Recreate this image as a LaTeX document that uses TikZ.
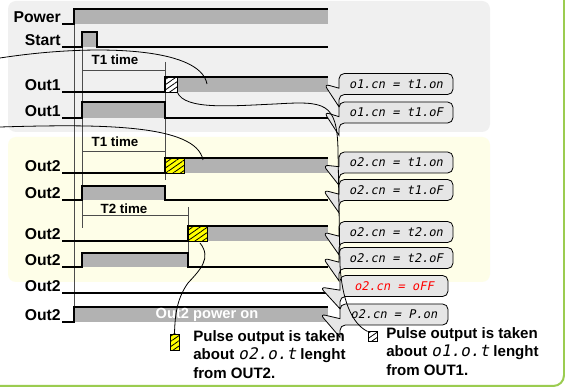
\documentclass[tikz,border=0pt]{standalone}
\usepackage{fontspec}
\setmainfont{Liberation Sans}
\newfontfamily\segfont[FakeSlant=0.2]{DejaVu Sans Mono}
\usetikzlibrary{shapes.callouts,patterns.meta}
\definecolor{panelgrey}{RGB}{240,240,240}
\definecolor{panelyellow}{RGB}{254,254,232}
\definecolor{bargrey}{RGB}{178,178,178}
\definecolor{bubblegrey}{RGB}{230,230,230}
\definecolor{hatchyellow}{RGB}{255,255,0}
\definecolor{framegreen}{RGB}{155,204,80}

\begin{document}
\begin{tikzpicture}[x=0.75pt,y=-0.75pt,
  sig/.style={line width=0.9pt},
  thin/.style={line width=0.6pt},
  tline/.style={line width=0.7pt,black!70},
  bar/.style={fill=bargrey},
  lbl/.style={font=\fontsize{11.8}{13}\selectfont\bfseries,anchor=base east,inner sep=0pt},
  tlbl/.style={font=\fontsize{10}{12}\selectfont\bfseries,inner sep=0pt},
  note/.style={font=\fontsize{11.3}{13.9}\selectfont\bfseries,align=left,anchor=north west,inner sep=0pt},
  bubble/.style={rectangle callout,draw,fill=bubblegrey,rounded corners=4pt,line width=0.6pt,
    minimum width=85.5pt,minimum height=15.75pt,inner sep=1pt,callout pointer width=14pt,
    font=\segfont\fontsize{9}{10}\selectfont},
  hatchw/.style={draw,line width=0.6pt,inner sep=0pt,preaction={fill=white},
    pattern={Lines[angle=35,distance=3.2pt,line width=0.6pt]}},
  hatchy/.style={draw,line width=0.6pt,inner sep=0pt,preaction={fill=hatchyellow},
    pattern={Lines[angle=35,distance=3.2pt,line width=0.6pt]}}]

\useasboundingbox (0,0) rectangle (565,388);
\fill[white] (0,0) rectangle (565,388);
\fill[panelgrey,rounded corners=6pt] (8,1) rectangle (490,132);
\fill[panelyellow,rounded corners=6pt] (8,137) rectangle (490,282);
\draw[framegreen,line width=1.5pt,rounded corners=8pt] (564,0) -- (564,386) -- (0,386);

% labels
\node[lbl] (power) at (61,22.5) {Power};
\node[lbl] (start) at (61,45.5) {Start};
\node[lbl] (o1a) at (61,90.5) {Out1};
\node[lbl] (o1b) at (61,116.5) {Out1};
\node[lbl] (o2a) at (61,171.5) {Out2};
\node[lbl] (o2b) at (61,198.5) {Out2};
\node[lbl] (o2c) at (61,239.5) {Out2};
\node[lbl] (o2d) at (61,265.5) {Out2};
\node[lbl] (o2e) at (61,291.5) {Out2};
\node[lbl] (o2f) at (61,320.5) {Out2};

% time marks
\draw[tline] (74,9) -- (74,322);
\draw[tline] (82,32) -- (82,228);
\draw[tline] (165,62) -- (165,180);
\draw[tline] (188,207) -- (188,267);
\draw[tline] (82,70) -- (165,70);
\draw[tline] (82,151) -- (165,151);
\draw[tline] (82,215) -- (188,215);
\node[tlbl] (t1a) at (115,60) {T1 time};
\node[tlbl] (t1b) at (115,142) {T1 time};
\node[tlbl] (t2) at (124,209) {T2 time};

% signals
\fill[bar] (74,9) rectangle (328,24);
\draw[sig] (62,24) -- (74,24) -- (74,9) -- (328,9);
\fill[bar] (82,32) rectangle (97,47);
\draw[sig] (62,47) -- (82,47) -- (82,32) -- (97,32) -- (97,47) -- (328,47);
\fill[bar] (177,77) rectangle (328,92);
\draw[sig] (62,92) -- (165,92) -- (165,77) -- (328,77);
\node[hatchw,minimum width=9pt,minimum height=11.25pt] (hw) at (171,84.5) {};
\fill[bar] (82,102) rectangle (165,118);
\draw[sig] (62,118) -- (82,118) -- (82,102) -- (165,102) -- (165,118) -- (328,118);
\fill[bar] (184,158) rectangle (328,173);
\draw[sig] (62,173) -- (165,173) -- (165,158) -- (328,158);
\node[hatchy,minimum width=14.25pt,minimum height=11.25pt] (hy1) at (174.5,165.5) {};
\fill[bar] (82,186) rectangle (165,200);
\draw[sig] (62,200) -- (82,200) -- (82,186) -- (165,186) -- (165,200) -- (328,200);
\fill[bar] (207,226) rectangle (328,241);
\draw[sig] (62,241) -- (188,241) -- (188,226) -- (328,226);
\node[hatchy,minimum width=14.25pt,minimum height=11.25pt] (hy2) at (197.5,233.5) {};
\fill[bar] (82,253) rectangle (188,267);
\draw[sig] (62,267) -- (82,267) -- (82,253) -- (188,253) -- (188,267) -- (328,267);
\draw[sig] (62,293) -- (328,293);
\fill[bar] (74,307) rectangle (328,322);
\draw[sig] (62,322) -- (74,322) -- (74,307) -- (328,307);
\node[font=\fontsize{11}{13}\selectfont\bfseries,text=white] (pwr) at (207,314.5) {Out2 power on};

% callouts
\node[bubble,callout absolute pointer={(324,84)}] (c1) at (396,84) {o1.cn = t1.on};
\node[bubble,callout absolute pointer={(324,112)}] (c2) at (396,112.5) {o1.cn = t1.oF};
\node[bubble,callout absolute pointer={(323,165)}] (c3) at (396,162.5) {o2.cn = t1.on};
\node[bubble,callout absolute pointer={(323,190)}] (c4) at (396,190) {o2.cn = t1.oF};
\node[bubble,callout absolute pointer={(323,232)}] (c5) at (396,232) {o2.cn = t2.on};
\node[bubble,callout absolute pointer={(323,258)}] (c6) at (396,258) {o2.cn = t2.oF};
\node[bubble,minimum width=81pt,text=red,callout absolute pointer={(320,287)}] (c7) at (394,286) {o2.cn = oFF};
\node[bubble,minimum width=81pt,callout absolute pointer={(320,314)}] (c8) at (394,314.5) {o2.cn = P.on};

% keys
\node[hatchy,minimum width=6.75pt,minimum height=12pt] (keyy) at (174.5,342) {};
\node[note] (notey) at (193,330) {Pulse output is taken\\about {\segfont\mdseries\fontsize{12}{13.9}\selectfont o2.o.t} lenght\\from OUT2.};
\node[hatchw,minimum width=6.75pt,minimum height=7pt] (keyw) at (372.5,336.5) {};
\node[note] (notew) at (386,327) {Pulse output is taken\\about {\segfont\mdseries\fontsize{12}{13.9}\selectfont o1.o.t} lenght\\from OUT1.};

% connectors
\coordinate (in1) at (0,58);
\coordinate (e1) at (207,84);
\coordinate (in2) at (0,127);
\coordinate (e2) at (203,160);
\coordinate (s4) at (200,243);
\draw[thin] (in1) .. controls (90,44) and (200,46) .. (e1);
\draw[thin] (in2) .. controls (100,124) and (196,124) .. (e2);
\draw[thin] (hw.south east) .. controls (185,110) and (230,106) .. (275,104)
  .. controls (325,101) and (337,102) .. (338,150) -- (340,265)
  .. controls (342,300) and (352,324) .. (keyw.north west);
\draw[thin] (s4) .. controls (212,258) and (200,270) .. (188,283)
  .. controls (178,297) and (175,312) .. (keyy.north);
\end{tikzpicture}
\end{document}
